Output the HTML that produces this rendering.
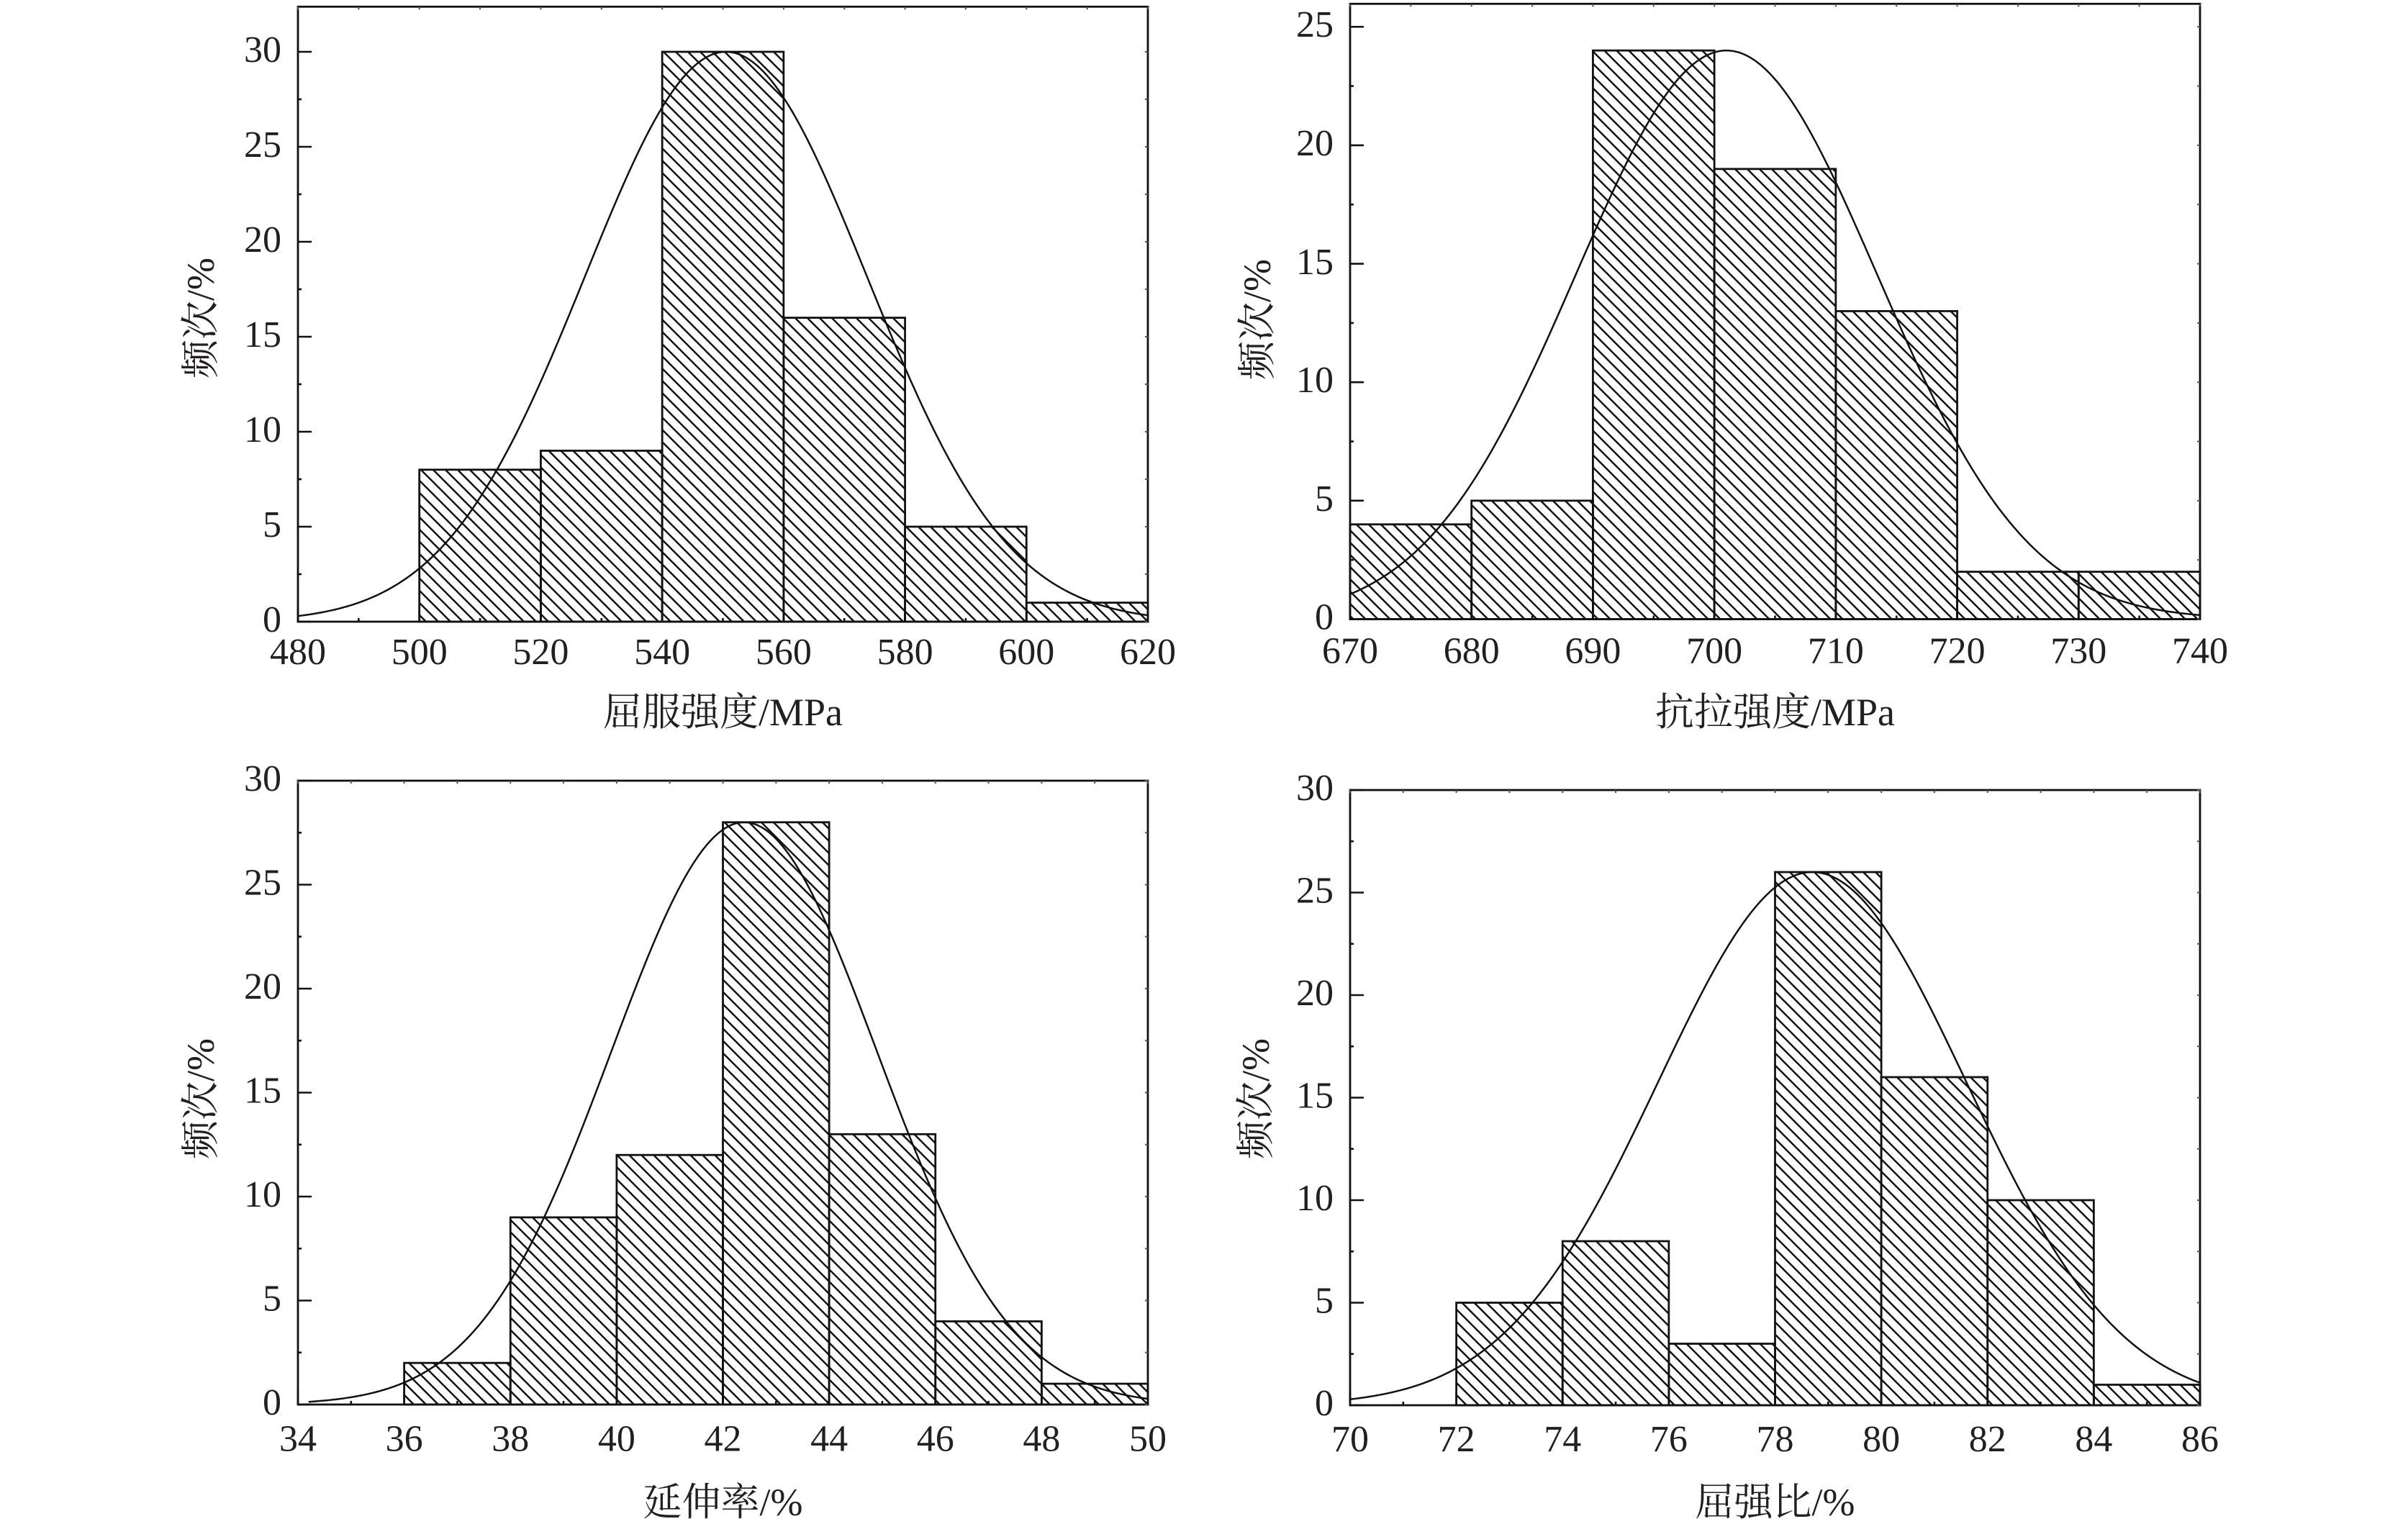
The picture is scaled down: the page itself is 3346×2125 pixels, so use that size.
<!DOCTYPE html>
<html>
<head>
<meta charset="utf-8">
<style>
html,body{margin:0;padding:0;background:#fff;}
svg{display:block;}
text{font-family:"Liberation Serif","Noto Serif CJK SC",serif;fill:#231f20;}
.tk{font-size:52px;}
.ti{font-size:54px;}
</style>
</head>
<body>
<svg id="s" width="3346" height="2125" viewBox="0 0 3346 2125" xmlns="http://www.w3.org/2000/svg">
<defs>
<pattern id="h" patternUnits="userSpaceOnUse" width="17" height="17">
<path d="M-5,-5 L22,22 M-5,12 L5,22 M12,-5 L22,5" stroke="#111" stroke-width="2.5" fill="none"/>
</pattern>
</defs>
<rect x="0" y="0" width="3346" height="2125" fill="#fff"/>
<g id="g"></g>

<!-- Panel 1 labels -->
<g class="tk" text-anchor="end">
<text x="391" y="878">0</text>
<text x="391" y="746">5</text>
<text x="391" y="614">10</text>
<text x="391" y="482">15</text>
<text x="391" y="350">20</text>
<text x="391" y="218">25</text>
<text x="391" y="86">30</text>
</g>
<g class="tk" text-anchor="middle">
<text x="414" y="923">480</text>
<text x="582.7" y="923">500</text>
<text x="751.4" y="923">520</text>
<text x="920.1" y="923">540</text>
<text x="1088.9" y="923">560</text>
<text x="1257.6" y="923">580</text>
<text x="1426.3" y="923">600</text>
<text x="1595" y="923">620</text>
</g>
<text class="ti" x="1004.5" y="1008" text-anchor="middle">屈服强度/MPa</text>
<text class="ti" text-anchor="middle" transform="translate(297,442) rotate(-90)">频次/%</text>

<!-- Panel 2 labels -->
<g class="tk" text-anchor="end">
<text x="1853" y="874.5">0</text>
<text x="1853" y="710">5</text>
<text x="1853" y="545">10</text>
<text x="1853" y="381">15</text>
<text x="1853" y="216">20</text>
<text x="1853" y="51">25</text>
</g>
<g class="tk" text-anchor="middle">
<text x="1876" y="921.5">670</text>
<text x="2044.7" y="921.5">680</text>
<text x="2213.4" y="921.5">690</text>
<text x="2382.1" y="921.5">700</text>
<text x="2550.9" y="921.5">710</text>
<text x="2719.6" y="921.5">720</text>
<text x="2888.3" y="921.5">730</text>
<text x="3057" y="921.5">740</text>
</g>
<text class="ti" x="2466.5" y="1008" text-anchor="middle">抗拉强度/MPa</text>
<text class="ti" text-anchor="middle" transform="translate(1765,444) rotate(-90)">频次/%</text>

<!-- Panel 3 labels -->
<g class="tk" text-anchor="end">
<text x="391" y="1966">0</text>
<text x="391" y="1821.5">5</text>
<text x="391" y="1677">10</text>
<text x="391" y="1532.5">15</text>
<text x="391" y="1388">20</text>
<text x="391" y="1243.5">25</text>
<text x="391" y="1099">30</text>
</g>
<g class="tk" text-anchor="middle">
<text x="414" y="2016.5">34</text>
<text x="561.6" y="2016.5">36</text>
<text x="709.3" y="2016.5">38</text>
<text x="856.9" y="2016.5">40</text>
<text x="1004.5" y="2016.5">42</text>
<text x="1152.1" y="2016.5">44</text>
<text x="1299.8" y="2016.5">46</text>
<text x="1447.4" y="2016.5">48</text>
<text x="1595" y="2016.5">50</text>
</g>
<text class="ti" x="1004.5" y="2106" text-anchor="middle">延伸率/%</text>
<text class="ti" text-anchor="middle" transform="translate(297,1527) rotate(-90)">频次/%</text>

<!-- Panel 4 labels -->
<g class="tk" text-anchor="end">
<text x="1853" y="1967">0</text>
<text x="1853" y="1824.5">5</text>
<text x="1853" y="1682">10</text>
<text x="1853" y="1539.5">15</text>
<text x="1853" y="1397">20</text>
<text x="1853" y="1254.5">25</text>
<text x="1853" y="1112">30</text>
</g>
<g class="tk" text-anchor="middle">
<text x="1876" y="2017">70</text>
<text x="2023.6" y="2017">72</text>
<text x="2171.3" y="2017">74</text>
<text x="2318.9" y="2017">76</text>
<text x="2466.5" y="2017">78</text>
<text x="2614.1" y="2017">80</text>
<text x="2761.8" y="2017">82</text>
<text x="2909.4" y="2017">84</text>
<text x="3057" y="2017">86</text>
</g>
<text class="ti" x="2466.5" y="2106" text-anchor="middle">屈强比/%</text>
<text class="ti" text-anchor="middle" transform="translate(1763,1527) rotate(-90)">频次/%</text>
</svg>

<script>
(function(){
var NS="http://www.w3.org/2000/svg";
var g=document.getElementById("g");
function el(n,a){var e=document.createElementNS(NS,n);for(var k in a)e.setAttribute(k,a[k]);g.appendChild(e);return e;}
var P=[
 {x0:414,x1:1595,xa:480,xb:620,y0:864,py:26.4,top:9.3,bars:[[500,520,8],[520,540,9],[540,560,30],[560,580,16],[580,600,5],[600,620,1]],mu:550.5,sg:23.2,A:30,cs:480,ce:620,xmaj:20,xmin:10,ymax:30},
 {x0:1876,x1:3057,xa:670,xb:740,y0:860.5,py:32.93,top:5.3,bars:[[670,680,4],[680,690,5],[690,700,24],[700,710,19],[710,720,13],[720,730,2],[730,740,2]],mu:701,sg:12.4,A:24,cs:670,ce:740,xmaj:10,xmin:5,ymax:25},
 {x0:414,x1:1595,xa:34,xb:50,y0:1952,py:28.9,top:1085,bars:[[36,38,2],[38,40,9],[40,42,12],[42,44,28],[44,46,13],[46,48,4],[48,50,1]],mu:42.4,sg:2.5,A:28,cs:34.2,ce:50,xmaj:2,xmin:1,ymax:30},
 {x0:1876,x1:3057,xa:70,xb:86,y0:1953,py:28.5,top:1098,bars:[[72,74,5],[74,76,8],[76,78,3],[78,80,26],[80,82,16],[82,84,10],[84,86,1]],mu:78.7,sg:2.9,A:26,cs:70,ce:86,xmaj:2,xmin:1,ymax:30}
];
P.forEach(function(p){
  var sx=(p.x1-p.x0)/(p.xb-p.xa);
  function X(v){return p.x0+(v-p.xa)*sx;}
  function Y(v){return p.y0-v*p.py;}
  // bars
  p.bars.forEach(function(b){
    var x=X(b[0]),w=X(b[1])-x,y=Y(b[2]),h=p.y0-y;
    el("rect",{x:x,y:y,width:w,height:h,fill:"url(#h)",stroke:"#111","stroke-width":2.8});
  });
  // curve
  var d="",N=400;
  for(var i=0;i<=N;i++){
    var v=p.cs+(p.ce-p.cs)*i/N;
    var f=p.A*Math.exp(-(v-p.mu)*(v-p.mu)/(2*p.sg*p.sg));
    d+=(i?"L":"M")+X(v).toFixed(2)+","+Y(f).toFixed(2);
  }
  el("path",{d:d,fill:"none",stroke:"#111","stroke-width":2.5});
  // frame
  el("rect",{x:p.x0,y:p.top,width:p.x1-p.x0,height:p.y0-p.top,fill:"none",stroke:"#111","stroke-width":2.8});
  // y ticks
  for(var v=0;v<=p.ymax+0.001;v+=2.5){
    var y=Y(v);
    var maj=(Math.abs(v/5-Math.round(v/5))<0.01);
    el("line",{x1:p.x0,y1:y,x2:p.x0+(maj?19:5),y2:y,stroke:"#111","stroke-width":2.6});
    el("line",{x1:p.x1,y1:y,x2:p.x1-4,y2:y,stroke:"#555","stroke-width":2});
  }
  // x ticks
  for(var v=p.xa;v<=p.xb+0.001;v+=p.xmin){
    var x=X(v);
    var maj=(Math.abs((v-p.xa)/p.xmaj-Math.round((v-p.xa)/p.xmaj))<0.01);
    el("line",{x1:x,y1:p.y0,x2:x,y2:p.y0-(maj?19:5),stroke:"#111","stroke-width":2.6});
    el("line",{x1:x,y1:p.top,x2:x,y2:p.top+4,stroke:"#555","stroke-width":2});
  }
});
})();
</script>
</body>
</html>
